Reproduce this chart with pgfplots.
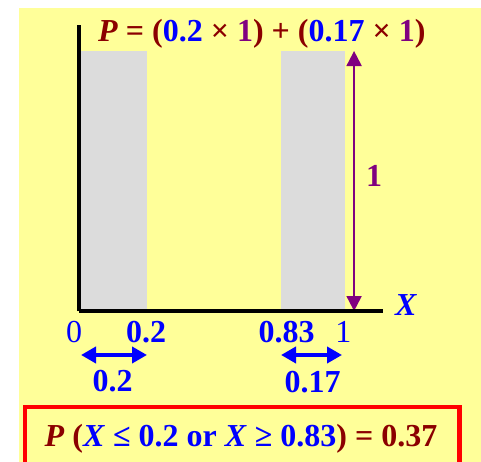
\documentclass[border=0pt]{standalone}
\usepackage{pgfplots}
\pgfplotsset{compat=1.18}
\usepackage{fontspec}
\setmainfont{Liberation Serif}
\usetikzlibrary{arrows.meta}

\definecolor{bgyellow}{HTML}{FFFF99}
\definecolor{dred}{HTML}{8B0000}
\definecolor{ppl}{HTML}{800080}
\definecolor{blu}{HTML}{0000FF}
\definecolor{grayfill}{HTML}{DCDCDC}
\definecolor{boxred}{HTML}{FF0000}

\newcommand{\bigf}{\fontsize{32bp}{38bp}\selectfont\bfseries}

\begin{document}
\begin{tikzpicture}
\path[use as bounding box] (0,0) rectangle (481bp,-462bp);
\clip (0,0) rectangle (481bp,-462bp);
% slide background
\fill[bgyellow] (19bp,-8bp) rectangle (482bp,-463bp);

\begin{axis}[
  at={(79.02bp,-311bp)}, anchor=south west,
  scale only axis, width=303.685bp, height=286bp,
  xmin=-0.006, xmax=1.1, ymin=0, ymax=1.1,
  % schematic (not-to-scale) horizontal axis: piecewise linear stretch
  x coord trafo/.code={\pgfmathparse{330*#1-117.3*max(#1-0.2,0)+163.8*max(#1-0.83,0)}},
  axis lines=left,
  axis line style={-, line width=4bp, black},
  xtick=\empty, ytick=\empty,
  axis on top, clip=false,
]
% shaded regions X <= 0.2 and X >= 0.83, density 1
\addplot[draw=none, fill=grayfill] coordinates {(0,1) (0.2,1)} \closedcycle;
\addplot[draw=none, fill=grayfill] coordinates {(0.83,1) (1,1)} \closedcycle;
% height of the density
\addplot[color=ppl, line width=2bp,
  {Triangle[width=15bp,length=15bp]}-{Triangle[width=15bp,length=15bp]}]
  coordinates {(1.024,0) (1.024,1)};
% widths of the two intervals
\addplot[color=blu, line width=4bp,
  {Triangle[width=16bp,length=15bp]}-{Triangle[width=16bp,length=15bp]}]
  coordinates {(0,-0.1692) (0.2,-0.1692)};
\addplot[color=blu, line width=4bp,
  {Triangle[width=16bp,length=15bp]}-{Triangle[width=16bp,length=15bp]}]
  coordinates {(0.83,-0.1692) (0.992,-0.1692)};
\end{axis}

% title formula
\node[anchor=base west, inner sep=0, font=\bigf, text=dred] at (98bp,-41.7bp)
  {\textit{P} = (\textcolor{blu}{0.2} × \textcolor{ppl}{1}) + (\textcolor{blu}{0.17} × \textcolor{ppl}{1})};

% axis labels
\node[anchor=base west, inner sep=0, font=\bigf\itshape, text=blu] at (395bp,-315bp) {X};
\node[anchor=base, inner sep=0, font=\bigf, text=ppl] at (374bp,-186bp) {1};

\node[anchor=base, inner sep=0, font=\fontsize{32bp}{38bp}\selectfont, text=blu] at (74bp,-342.3bp) {0};
\node[anchor=base, inner sep=0, font=\bigf, text=blu] at (146bp,-342.3bp) {0.2};
\node[anchor=base, inner sep=0, font=\bigf, text=blu] at (286.7bp,-342.3bp) {0.83};
\node[anchor=base, inner sep=0, font=\fontsize{32bp}{38bp}\selectfont, text=blu] at (343.3bp,-342.3bp) {1};

\node[anchor=base, inner sep=0, font=\bigf, text=blu] at (112.5bp,-391.7bp) {0.2};
\node[anchor=base, inner sep=0, font=\bigf, text=blu] at (312.5bp,-392.5bp) {0.17};

% result box
\draw[boxred, line width=4.5bp] (25bp,-407bp) rectangle (459.7bp,-520bp);
\node[anchor=base, inner sep=0, font=\bigf, text=dred] at (241bp,-446.7bp)
  {\textit{P} (\textcolor{blu}{\textit{X} ≤ 0.2 or \textit{X} ≥ 0.83}) = 0.37};
\end{tikzpicture}
\end{document}
